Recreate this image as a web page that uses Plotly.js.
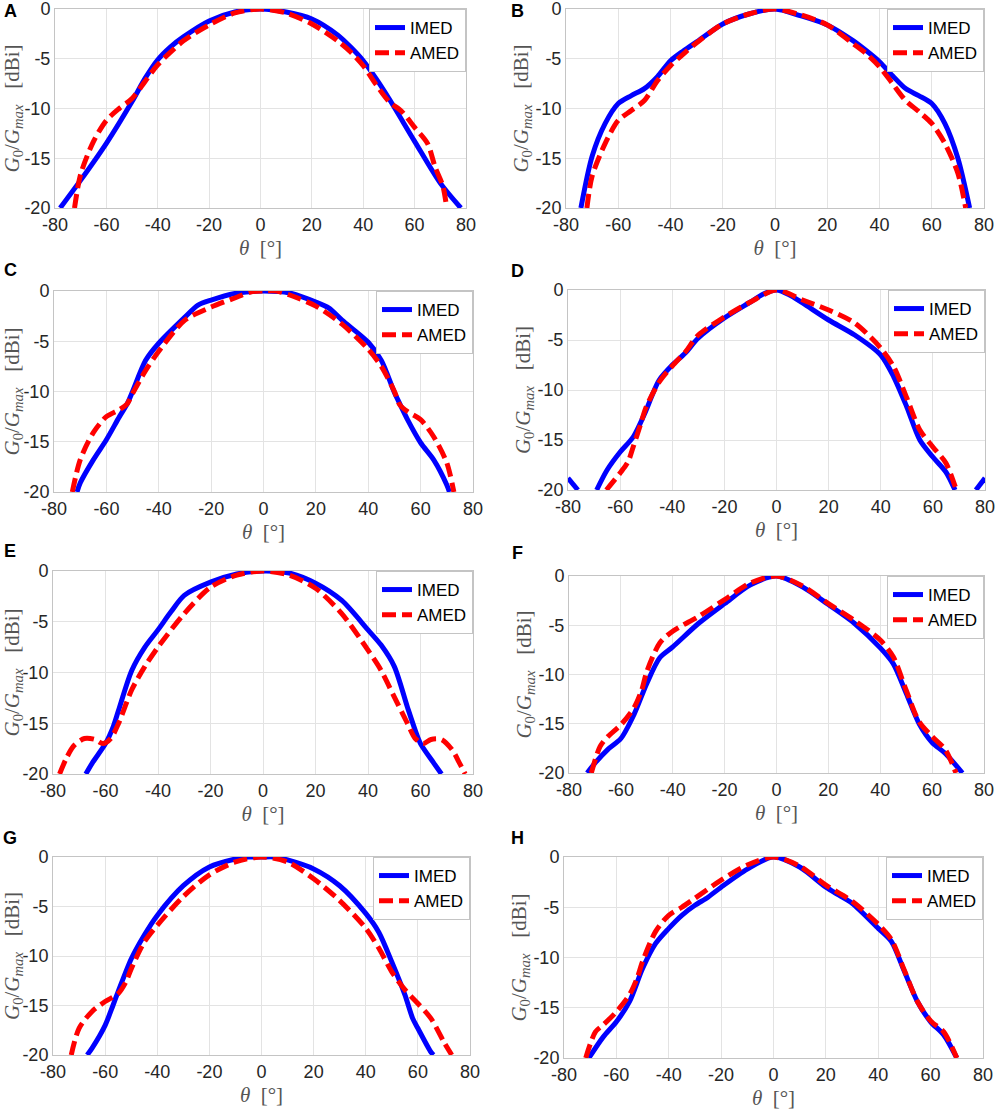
<!DOCTYPE html>
<html>
<head>
<meta charset="utf-8">
<script src="https://cdn.plot.ly/plotly-3.0.1.min.js"></script>
<style>
  html, body { margin: 0; padding: 0; background: #ffffff; }
  #fig { width: 996px; height: 1112px; }
</style>
</head>
<body>
<div id="fig"></div>
<script>
// theta in degrees, gain normalised G0/Gmax in dBi
var thetaA_imed = [-78, -70, -60, -50, -45, -40, -35, -30, -20, -10, 0, 10, 20, 30, 35, 40, 45, 50, 60, 70, 78];
var gainA_imed  = [-20, -17.2, -13.5, -9.3, -7, -5.1, -3.8, -2.8, -1.2, -0.3, 0, -0.3, -1, -2.6, -3.8, -5.2, -7, -9, -13.3, -17.5, -20];
var thetaA_amed = [-72.4, -70, -65, -60, -55, -50, -45, -40, -30, -20, -10, 0, 10, 20, 30, 35, 40, 45, 50, 55, 60, 65, 68, 71, 72.5];
var gainA_amed  = [-20, -16.6, -13.3, -11.2, -10, -9, -7.3, -5.6, -3.2, -1.6, -0.4, 0, -0.4, -1.5, -3.2, -4.3, -5.7, -7.6, -9.3, -10.3, -11.9, -13.5, -15.9, -17.8, -20];

var thetaB_imed = [-74.3, -70, -65, -60, -55, -50, -45, -40, -35, -30, -20, -10, 0, 10, 20, 30, 35, 40, 45, 50, 55, 60, 65, 70, 74.5];
var gainB_imed  = [-20, -14.8, -11.5, -9.5, -8.7, -8, -6.8, -5.2, -4.2, -3.3, -1.5, -0.5, 0, -0.7, -1.6, -3.2, -4.2, -5.3, -6.7, -8, -8.7, -9.5, -11.5, -15, -20];
var thetaB_amed = [-72, -70, -65, -60, -55, -50, -45, -40, -35, -30, -20, -10, 0, 10, 20, 30, 35, 40, 45, 50, 55, 60, 65, 70, 73];
var gainB_amed  = [-20, -16.8, -13.5, -11.2, -10.2, -9.2, -7.2, -5.7, -4.5, -3.4, -1.5, -0.5, 0, -0.6, -1.6, -3.5, -4.5, -5.8, -7.5, -9.2, -10.3, -11.5, -13.5, -16.5, -20];

var thetaC_imed = [-71.2, -70, -65, -60, -55, -52, -50, -45, -40, -30, -25, -20, -10, 0, 10, 20, 25, 30, 40, 45, 50, 52, 55, 60, 65, 70, 71];
var gainC_imed  = [-20, -19.1, -16.8, -14.8, -12.5, -11.2, -10, -6.9, -5.2, -2.6, -1.4, -0.9, -0.2, 0, -0.2, -1.1, -1.7, -2.9, -5.1, -6.9, -10.1, -11.2, -12.8, -15.1, -16.8, -19.3, -20];
var thetaC_amed = [-73, -70, -65, -60, -55, -52, -50, -45, -40, -30, -20, -10, -5, 0, 5, 10, 20, 30, 40, 45, 50, 52, 55, 60, 65, 70, 72.7];
var gainC_amed  = [-20, -16.8, -14.1, -12.5, -11.8, -11.2, -10.2, -7.9, -6, -2.9, -1.6, -0.6, -0.1, 0, 0, -0.4, -1.5, -3.3, -5.8, -7.5, -10, -11.3, -12, -12.8, -14.5, -17.1, -20];

var thetaD_imed = [-80, -76.2, null, -69, -65, -60, -55, -50, -48, -45, -40, -35, -30, -20, -10, -5, 0, 5, 10, 20, 30, 40, 45, 50, 55, 60, 65, 68.5, null, 76.5, 80];
var gainD_imed  = [-18.8, -20, null, -20, -18, -16.2, -14.7, -12, -10.7, -9, -7.5, -6.3, -4.8, -2.8, -1.2, -0.4, 0, -0.5, -1.3, -3, -4.5, -6.5, -8.7, -11.7, -15, -16.7, -18.2, -20, null, -20, -18.8];
var thetaD_amed = [-65.3, -60, -57, -55, -52, -50, -45, -40, -35, -30, -20, -10, 0, 10, 20, 30, 40, 45, 50, 55, 60, 65, 69];
var gainD_amed  = [-20, -18.3, -17.2, -15.7, -13.3, -11.7, -9.2, -7.6, -6.2, -4.5, -2.7, -1.2, 0, -1, -2, -3.3, -5.8, -7.7, -10.8, -14, -15.7, -17.3, -20];

var thetaE_imed = [-67.5, -65, -60, -57, -55, -50, -45, -40, -35, -30, -20, -10, 0, 10, 20, 30, 40, 45, 50, 55, 58, 60, 65, 68];
var gainE_imed  = [-20, -18.9, -17, -15.3, -13.7, -9.8, -7.5, -5.8, -4, -2.4, -1.1, -0.3, 0, -0.2, -1.2, -2.9, -5.8, -7.3, -9.4, -13.4, -15.7, -17, -18.9, -20];
var thetaE_amed = [-77.5, -75, -72, -68, -64, -61, -58, -55, -50, -45, -40, -30, -20, -10, 0, 10, 20, 30, 40, 45, 50, 55, 58, 61, 64, 68, 72, 75, 77];
var gainE_amed  = [-20, -18.5, -17.2, -16.5, -16.6, -17, -16.5, -15, -11.7, -9.4, -7.5, -4.2, -1.6, -0.4, 0, -0.4, -1.7, -4.2, -7.8, -9.8, -12.4, -15, -16.5, -17, -16.6, -16.6, -17.6, -19, -20];

var thetaF_imed = [-73, -70, -65, -60, -55, -50, -45, -40, -30, -20, -10, 0, 10, 20, 30, 40, 45, 50, 55, 60, 65, 71.7];
var gainF_imed  = [-20, -19, -17.6, -16.5, -14.1, -10.9, -8.3, -7.2, -4.8, -2.8, -0.9, 0, -1.1, -2.9, -4.8, -7.3, -8.9, -11.9, -15, -16.9, -18, -20];
var thetaF_amed = [-71.4, -68, -65, -60, -55, -52, -50, -45, -40, -30, -20, -10, 0, 10, 20, 30, 40, 45, 50, 55, 60, 65, 69.2];
var gainF_amed  = [-20, -17.3, -16.3, -15.1, -13.4, -11.6, -9.7, -6.8, -5.6, -4.1, -2.4, -0.7, 0, -1, -2.8, -4.5, -6.5, -8.2, -11.6, -14.8, -16.3, -17.6, -20];

var thetaG_imed = [-66.9, -65, -60, -57, -55, -50, -45, -40, -30, -20, -10, -5, 0, 5, 10, 20, 30, 40, 45, 50, 55, 58, 60, 65, 66];
var gainG_imed  = [-20, -19.3, -17, -15, -13.6, -10.3, -7.9, -5.9, -2.9, -1, -0.2, 0, 0, 0, -0.3, -1.2, -2.9, -5.7, -7.6, -10.6, -13.9, -16.3, -17.3, -19.7, -20];
var thetaG_amed = [-73, -70, -65, -60, -55, -52, -50, -45, -40, -30, -20, -10, 0, 10, 20, 30, 40, 45, 50, 55, 60, 65, 70, 73];
var gainG_amed  = [-20, -17.3, -15.6, -14.6, -13.8, -12.6, -11.3, -8.6, -6.9, -4, -1.8, -0.5, 0, -0.5, -2.2, -4.4, -7.2, -9.2, -11.6, -13.4, -14.8, -16.3, -18.7, -20];

var thetaH_imed = [-70.5, -65, -60, -55, -50, -45, -40, -35, -30, -25, -20, -10, 0, 10, 20, 25, 30, 40, 45, 50, 55, 60, 65, 70];
var gainH_imed  = [-20, -17.9, -16.4, -14.4, -11.1, -8.6, -7.1, -5.8, -4.8, -4, -3, -1.2, 0, -1, -3, -3.8, -4.6, -7.1, -8.4, -11.4, -14.4, -16.4, -17.7, -20];
var thetaH_amed = [-71.7, -68, -65, -60, -55, -52, -50, -45, -40, -35, -30, -20, -10, 0, 10, 20, 30, 40, 45, 50, 55, 60, 65, 70];
var gainH_amed  = [-20, -17.4, -16.7, -15.4, -13.7, -12, -10.4, -7.4, -5.8, -5, -4.1, -2.3, -0.8, 0, -0.9, -2.8, -4.4, -6.7, -8.2, -11.3, -14.4, -16.3, -17.4, -20];

var panelLetters = ['A', 'B', 'C', 'D', 'E', 'F', 'G', 'H'];
var seriesNames = ['IMED', 'AMED'];
var xTicks = [-80, -60, -40, -20, 0, 20, 40, 60, 80];
var yTicks = [-20, -15, -10, -5, 0];

(function () {
  'use strict';

  var W = 996, H = 1112;
  var series = [
    [thetaA_imed, gainA_imed, thetaA_amed, gainA_amed],
    [thetaB_imed, gainB_imed, thetaB_amed, gainB_amed],
    [thetaC_imed, gainC_imed, thetaC_amed, gainC_amed],
    [thetaD_imed, gainD_imed, thetaD_amed, gainD_amed],
    [thetaE_imed, gainE_imed, thetaE_amed, gainE_amed],
    [thetaF_imed, gainF_imed, thetaF_amed, gainF_amed],
    [thetaG_imed, gainG_imed, thetaG_amed, gainG_amed],
    [thetaH_imed, gainH_imed, thetaH_amed, gainH_amed]
  ];

  // plot boxes in pixels: left, right, top, bottom
  var boxes = [
    [55, 466, 9, 208], [566, 984, 9, 208],
    [54, 473, 291, 492], [568, 985, 290, 490],
    [53, 473, 571, 774], [569, 984, 576, 773],
    [53, 470, 857, 1055], [564, 983, 857, 1058]
  ];
  var letterPos = [
    [10, 11], [517, 11], [10, 270], [517, 271],
    [10, 551], [517, 553], [10, 838], [517, 838]
  ];

  var axisColor = '#262626';
  var titleFont = { family: 'Liberation Serif, DejaVu Serif, serif', size: 21, color: '#555555' };
  var traces = [];
  var layout = {
    width: W,
    height: H,
    margin: { l: 0, r: 0, t: 0, b: 0 },
    paper_bgcolor: '#ffffff',
    plot_bgcolor: '#ffffff',
    font: { family: 'Liberation Sans, Arial, sans-serif', size: 18, color: axisColor },
    annotations: []
  };

  series.forEach(function (s, i) {
    var n = i + 1;
    var sfx = n === 1 ? '' : String(n);
    var leg = 'legend' + sfx;
    var b = boxes[i];
    var xd = [b[0] / W, b[1] / W];
    var yd = [1 - b[3] / H, 1 - b[2] / H];

    traces.push({
      type: 'scatter', mode: 'lines', name: seriesNames[0],
      x: s[0], y: s[1], xaxis: 'x' + sfx, yaxis: 'y' + sfx, legend: leg,
      line: { color: '#0000ff', width: 5, shape: 'spline', smoothing: 0.8 },
      connectgaps: false, hoverinfo: 'skip'
    });
    traces.push({
      type: 'scatter', mode: 'lines', name: seriesNames[1],
      x: s[2], y: s[3], xaxis: 'x' + sfx, yaxis: 'y' + sfx, legend: leg,
      line: { color: '#ff0000', width: 5, dash: '14px,6px', shape: 'spline', smoothing: 0.8 },
      hoverinfo: 'skip'
    });

    layout['xaxis' + sfx] = {
      domain: xd, anchor: 'y' + sfx, range: [-80, 80],
      tickvals: xTicks, ticktext: xTicks.map(String),
      showgrid: true, gridcolor: '#e3e3e3', gridwidth: 1,
      zeroline: false, showline: true, mirror: true, linecolor: '#c4c4c4', linewidth: 1,
      ticks: '', ticklabeloverflow: 'allow', tickfont: { size: 18, color: axisColor },
      title: { text: '<i>θ</i>  [°]', standoff: 6, font: titleFont },
      automargin: false
    };
    layout['yaxis' + sfx] = {
      domain: yd, anchor: 'x' + sfx, range: [-20, 0],
      tickvals: yTicks, ticktext: yTicks.map(String),
      showgrid: true, gridcolor: '#e3e3e3', gridwidth: 1,
      zeroline: false, showline: true, mirror: true, linecolor: '#c4c4c4', linewidth: 1,
      ticks: '', ticklabeloverflow: 'allow', tickfont: { size: 18, color: axisColor },
      title: { text: '<i>G</i><sub>0</sub>/<i>G</i><sub><i>max</i></sub>   [dBi]', standoff: 0, font: titleFont },
      automargin: false
    };
    layout[leg] = {
      x: xd[1], y: yd[1], xanchor: 'right', yanchor: 'top',
      xref: 'paper', yref: 'paper',
      bgcolor: '#ffffff', bordercolor: '#c4c4c4', borderwidth: 1,
      font: { size: 17, color: '#000000' },
      itemwidth: 30, tracegroupgap: 0
    };
    layout.annotations.push({
      xref: 'paper', yref: 'paper',
      x: letterPos[i][0] / W, y: 1 - letterPos[i][1] / H,
      xanchor: 'center', yanchor: 'middle', showarrow: false,
      text: '<b>' + panelLetters[i] + '</b>',
      font: { size: 18, color: '#000000' }
    });
  });

  Plotly.newPlot('fig', traces, layout, { staticPlot: true, displayModeBar: false });
})();
</script>
</body>
</html>
